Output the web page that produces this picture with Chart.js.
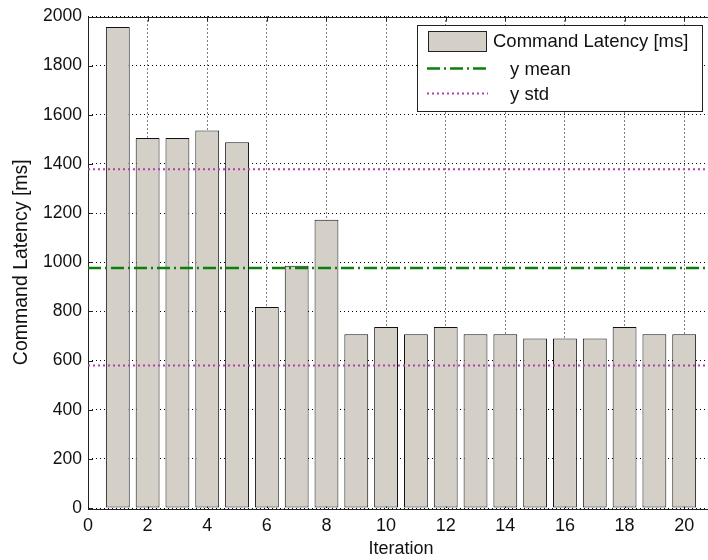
<!DOCTYPE html>
<html>
<head>
<meta charset="utf-8">
<title>Command Latency</title>
<script src="https://cdn.jsdelivr.net/npm/chart.js@4.4.1/dist/chart.umd.min.js"></script>
<style>
  html, body {
    margin: 0;
    padding: 0;
    background: #ffffff;
    overflow: hidden;
  }
  #wrap {
    width: 708px;
    height: 560px;
    overflow: hidden;
  }
</style>
</head>
<body>
<div id="wrap">
  <canvas id="latencyChart" width="720" height="560"></canvas>
</div>
<script>
// Data
const iterations = [1, 2, 3, 4, 5, 6, 7, 8, 9, 10, 11, 12, 13, 14, 15, 16, 17, 18, 19, 20];
const latencyMs = [
  1957, 1506, 1506, 1536, 1488, 818, 986, 1173, 707, 737,
  707, 737, 707, 707, 690, 690, 690, 737, 707, 707,
];
const meanMs = [977, 977];
const stdHighMs = [1378, 1378];
const stdLowMs = [580, 580];
const lineSpanX = [0, 21];
const xTickValues = [0, 2, 4, 6, 8, 10, 12, 14, 16, 18, 20];
const yTickValues = [0, 200, 400, 600, 800, 1000, 1200, 1400, 1600, 1800, 2000];

const FONT = "'Liberation Sans', Arial, Helvetica, sans-serif";
const BAR_FILL = "#d4d0c8";
const MEAN_COLOR = "#0b7f0b";
const STD_COLOR = "#b040a8";

function pairs(xs, ys) {
  return xs.map(function (x, i) {
    return { x: x, y: ys[i] };
  });
}

// MATLAB style box, inward ticks and legend
const matlabAxes = {
  id: "matlabAxes",
  beforeDatasetsDraw: function (chart) {
    const ctx = chart.ctx;
    const area = chart.chartArea;
    const xs = chart.scales.x;
    const ys = chart.scales.y;
    const len = 5;
    ctx.save();
    ctx.strokeStyle = "#222222";
    ctx.lineWidth = 1;
    ctx.beginPath();
    xTickValues.forEach(function (v) {
      const px = Math.round(xs.getPixelForValue(v)) + 0.5;
      ctx.moveTo(px, area.bottom);
      ctx.lineTo(px, area.bottom - len);
      ctx.moveTo(px, area.top);
      ctx.lineTo(px, area.top + len);
    });
    yTickValues.forEach(function (v) {
      const py = Math.round(ys.getPixelForValue(v)) + 0.5;
      ctx.moveTo(area.left, py);
      ctx.lineTo(area.left + len, py);
      ctx.moveTo(area.right, py);
      ctx.lineTo(area.right - len, py);
    });
    ctx.stroke();
    ctx.strokeRect(
      Math.round(area.left) + 0.5,
      Math.round(area.top) + 0.5,
      Math.round(area.right - area.left),
      Math.round(area.bottom - area.top)
    );
    ctx.restore();
  },
  afterDraw: function (chart) {
    const ctx = chart.ctx;
    const ds = chart.data.datasets;
    const box = { left: 417, top: 25, right: 702, bottom: 111 };
    ctx.save();
    ctx.fillStyle = "#ffffff";
    ctx.fillRect(box.left, box.top, box.right - box.left, box.bottom - box.top);
    ctx.strokeStyle = "#222222";
    ctx.lineWidth = 1;
    ctx.strokeRect(box.left + 0.5, box.top + 0.5, box.right - box.left, box.bottom - box.top);

    ctx.font = "18.5px " + FONT;
    ctx.textBaseline = "middle";

    // bar patch
    ctx.fillStyle = BAR_FILL;
    ctx.fillRect(428.5, 31.5, 58, 20);
    ctx.strokeStyle = "#222222";
    ctx.strokeRect(428.5, 31.5, 58, 20);
    ctx.fillStyle = "#111111";
    ctx.fillText(ds[0].label, 493, 42);

    // mean line
    ctx.strokeStyle = ds[1].borderColor;
    ctx.lineWidth = ds[1].borderWidth;
    ctx.setLineDash(ds[1].borderDash);
    ctx.beginPath();
    ctx.moveTo(427, 68.5);
    ctx.lineTo(488, 68.5);
    ctx.stroke();
    ctx.fillText(ds[1].label, 510, 70);

    // std line
    ctx.strokeStyle = ds[2].borderColor;
    ctx.lineWidth = ds[2].borderWidth;
    ctx.setLineDash(ds[2].borderDash);
    ctx.beginPath();
    ctx.moveTo(427, 93.5);
    ctx.lineTo(488, 93.5);
    ctx.stroke();
    ctx.setLineDash([]);
    ctx.fillText(ds[2].label, 510, 95);
    ctx.restore();
  },
};

document.addEventListener("DOMContentLoaded", function () {
  const ctx = document.getElementById("latencyChart");

  new Chart(ctx, {
    type: "bar",
    data: {
      datasets: [
        {
          type: "bar",
          label: "Command Latency [ms]",
          data: pairs(iterations, latencyMs),
          backgroundColor: BAR_FILL,
          borderColor: "#111111",
          borderWidth: 1,
          borderSkipped: false,
          barPercentage: 0.8,
          categoryPercentage: 1.0,
          order: 2,
        },
        {
          type: "line",
          label: "y mean",
          data: pairs(lineSpanX, meanMs),
          borderColor: MEAN_COLOR,
          borderWidth: 2.5,
          borderDash: [13, 4, 2, 4],
          pointRadius: 0,
          fill: false,
          order: 1,
        },
        {
          type: "line",
          label: "y std",
          data: pairs(lineSpanX, stdHighMs),
          borderColor: STD_COLOR,
          borderWidth: 2,
          borderDash: [2, 3],
          pointRadius: 0,
          fill: false,
          order: 1,
        },
        {
          type: "line",
          label: "y std (low)",
          data: pairs(lineSpanX, stdLowMs),
          borderColor: STD_COLOR,
          borderWidth: 2,
          borderDash: [2, 3],
          pointRadius: 0,
          fill: false,
          order: 1,
        },
      ],
    },
    options: {
      responsive: false,
      animation: false,
      layout: {
        padding: { left: 0, right: 6, top: 14, bottom: 0 },
      },
      plugins: {
        legend: { display: false },
        tooltip: { enabled: false },
      },
      scales: {
        x: {
          type: "linear",
          min: 0,
          max: 21,
          offset: false,
          afterBuildTicks: function (scale) {
            scale.ticks = xTickValues.map(function (v) {
              return { value: v };
            });
          },
          afterFit: function (scale) {
            scale.height = 52;
          },
          grid: {
            color: "#000000",
            lineWidth: 1,
            drawTicks: false,
            offset: false,
          },
          border: { display: false, dash: [1, 3] },
          ticks: {
            padding: 7,
            color: "#111111",
            font: { family: FONT, size: 18 },
            maxRotation: 0,
            autoSkip: false,
            callback: function (value) {
              return String(value);
            },
          },
          title: {
            display: true,
            text: "Iteration",
            color: "#111111",
            font: { family: FONT, size: 18 },
            padding: { top: 0, bottom: 0 },
          },
        },
        y: {
          min: 0,
          max: 2000,
          afterBuildTicks: function (scale) {
            scale.ticks = yTickValues.map(function (v) {
              return { value: v };
            });
          },
          afterFit: function (scale) {
            scale.width = 88;
          },
          grid: {
            color: "#000000",
            lineWidth: 1,
            drawTicks: false,
          },
          border: { display: false, dash: [1, 3] },
          ticks: {
            padding: 6,
            color: "#111111",
            font: { family: FONT, size: 17.5 },
            callback: function (value) {
              return String(value);
            },
          },
          title: {
            display: true,
            text: "Command Latency [ms]",
            color: "#111111",
            font: { family: FONT, size: 19.5 },
            padding: { top: 10, bottom: 0 },
          },
        },
      },
    },
    plugins: [matlabAxes],
  });
});
</script>
</body>
</html>
